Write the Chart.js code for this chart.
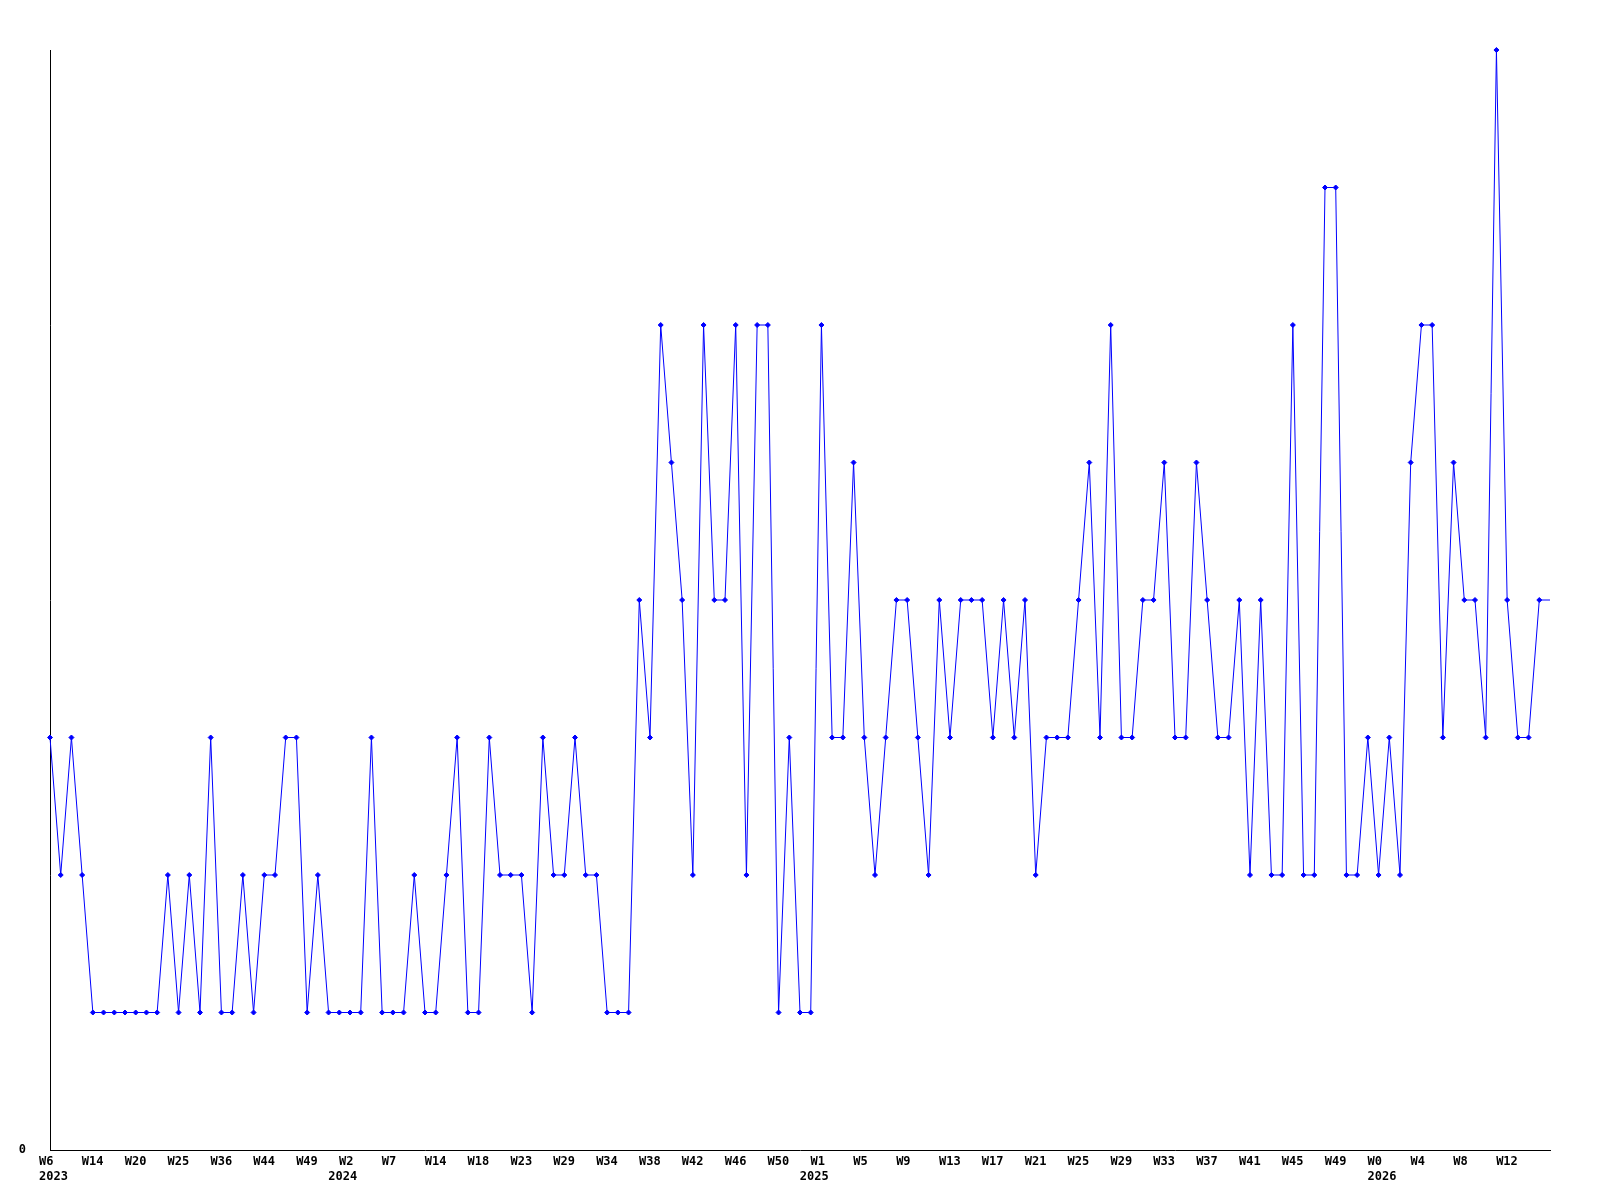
<!DOCTYPE html>
<html>
<head>
<meta charset="utf-8">
<script src="https://cdn.jsdelivr.net/npm/chart.js"></script>
<style>
  body { margin: 0; background: #fff; }
  canvas { display: block; }
</style>
</head>
<body>
<canvas id="weekChart" width="1600" height="1200"></canvas>
<script>
// one value per point
const values = [
  3, 2, 3, 2, 1, 1, 1, 1, 1, 1, 1, 2, 1, 2, 1, 3, 1, 1, 2, 1,
  2, 2, 3, 3, 1, 2, 1, 1, 1, 1, 3, 1, 1, 1, 2, 1, 1, 2, 3, 1,
  1, 3, 2, 2, 2, 1, 3, 2, 2, 3, 2, 2, 1, 1, 1, 4, 3, 6, 5, 4,
  2, 6, 4, 4, 6, 2, 6, 6, 1, 3, 1, 1, 6, 3, 3, 5, 3, 2, 3, 4,
  4, 3, 2, 4, 3, 4, 4, 4, 3, 4, 3, 4, 2, 3, 3, 3, 4, 5, 3, 6,
  3, 3, 4, 4, 5, 3, 3, 5, 4, 3, 3, 4, 2, 4, 2, 2, 6, 2, 2, 7,
  7, 2, 2, 3, 2, 3, 2, 5, 6, 6, 3, 5, 4, 4, 3, 8, 4, 3, 3, 4,
  4
];

// week labels, one on every 4th point
const tickLabels = [
  'W6', 'W14', 'W20', 'W25', 'W36', 'W44', 'W49', 'W2', 'W7', 'W14',
  'W18', 'W23', 'W29', 'W34', 'W38', 'W42', 'W46', 'W50', 'W1', 'W5',
  'W9', 'W13', 'W17', 'W21', 'W25', 'W29', 'W33', 'W37', 'W41', 'W45',
  'W49', 'W0', 'W4', 'W8', 'W12'
];
const tickStep = 4;

// year labels and the point where each year starts
const yearLabels = ['2023', '2024', '2025', '2026'];
const yearStarts = [0, 27, 71, 124];

const yTicks = [0];

const labelFont = { family: '"DejaVu Sans Mono", monospace', size: 12, weight: 'bold' };
const last = values.length - 1;

new Chart(document.getElementById('weekChart'), {
  type: 'line',
  data: {
    labels: values.map((v, i) => i),
    datasets: [{
      data: values,
      borderColor: '#0000ff',
      backgroundColor: '#0000ff',
      borderWidth: 1,
      tension: 0,
      clip: false,
      pointStyle: 'rectRot',
      pointRadius: (ctx) => ctx.dataIndex === last ? 0 : 2.5,
      pointBorderWidth: 1,
      pointBorderColor: '#0000ff',
      pointBackgroundColor: '#0000ff'
    }]
  },
  options: {
    responsive: false,
    animation: false,
    layout: { padding: { top: 50, right: 50, left: 0, bottom: 0 } },
    plugins: { legend: { display: false }, tooltip: { enabled: false } },
    scales: {
      x: {
        type: 'linear',
        position: 'bottom',
        weight: 0,
        min: 0,
        max: last,
        grid: { display: false, drawTicks: false },
        border: { display: true, color: '#000', width: 1 },
        afterBuildTicks: (scale) => {
          scale.ticks = tickLabels.map((t, k) => ({ value: k * tickStep }));
        },
        afterFit: (scale) => { scale.height = 15; },
        ticks: {
          autoSkip: false,
          maxRotation: 0,
          align: 'start',
          labelOffset: -11,
          padding: 5,
          color: '#000',
          font: labelFont,
          callback: (v) => tickLabels[Math.round(v / tickStep)]
        }
      },
      year: {
        type: 'linear',
        position: 'bottom',
        axis: 'x',
        weight: 1,
        min: 0,
        max: last,
        grid: { display: false, drawTicks: false },
        border: { display: false },
        afterBuildTicks: (scale) => {
          scale.ticks = yearStarts.map((s) => ({ value: s }));
        },
        afterFit: (scale) => { scale.height = 35; },
        ticks: {
          autoSkip: false,
          maxRotation: 0,
          align: 'start',
          labelOffset: -11,
          padding: 5,
          color: '#000',
          font: labelFont,
          callback: (v) => yearLabels[yearStarts.indexOf(v)]
        }
      },
      y: {
        min: 0,
        max: 8,
        grid: { display: false, drawTicks: false },
        border: { display: true, color: '#000', width: 1 },
        afterBuildTicks: (scale) => {
          scale.ticks = yTicks.map((v) => ({ value: v }));
        },
        afterFit: (scale) => { scale.width = 50; },
        ticks: {
          padding: 24,
          color: '#000',
          font: labelFont
        }
      }
    }
  }
});
</script>
</body>
</html>
